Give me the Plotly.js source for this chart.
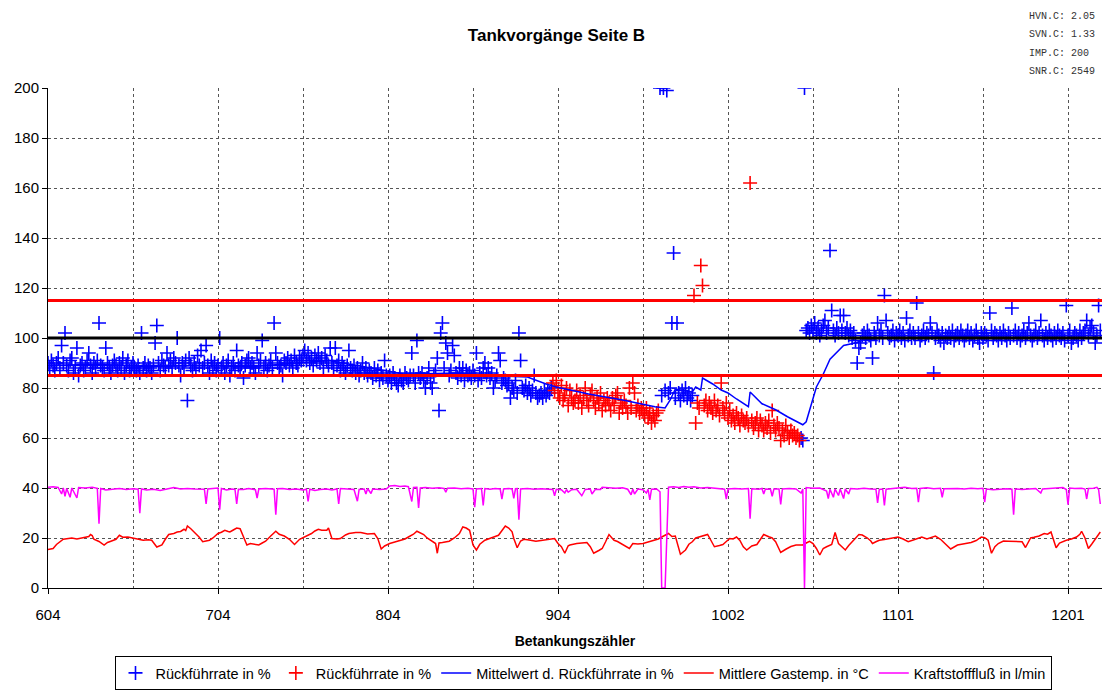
<!DOCTYPE html>
<html>
<head>
<meta charset="utf-8">
<script src="https://cdn.plot.ly/plotly-3.0.1.min.js"></script>
<style>html,body{margin:0;padding:0;background:#fff;}#chart{width:1102px;height:690px;}</style>
</head>
<body>
<div id="chart"></div>
<script>
// ---- Data ----
// x axis: consecutive refuelling events (category index); labels every 100 events
const tickIdx = [0, 100, 200, 300, 400, 500, 600];
const tickLabels = ['604', '704', '804', '904', '1002', '1101', '1201'];
const gridIdxMinor = [50, 150, 250, 350, 450, 550];

// Rückführrate in % per event
const rate = [
 90,88,91,89,87,90,92,88,97,90,
 102,89,87,91,92,86,88,96,85,89,
 90,87,88,91,94,89,86,90,88,91,
 106,89,88,87,96,90,88,86,89,91,
 89,87,90,88,92,86,89,91,87,88,
 90,88,87,89,86,102,88,90,87,89,
 88,86,89,98,105,90,87,91,89,88,
 94,89,91,88,92,90,100,89,85,90,
 88,91,75,92,89,87,90,88,93,89,
 95,88,90,97,89,86,91,88,90,87,
 89,100,88,90,86,89,91,85,88,90,
 87,95,89,88,90,84,89,91,92,88,
 90,88,86,94,89,91,99,88,90,87,
 89,91,88,106,94,90,88,89,85,91,
 90,92,89,91,88,93,90,89,92,91,
 93,95,91,94,90,92,89,93,91,94,
 90,92,88,93,91,89,96,90,88,96,
 89,91,87,90,88,86,89,95,88,87,
 89,86,88,85,87,90,86,88,85,87,
 86,84,88,85,87,83,86,84,91,85,
 83,85,82,86,84,82,81,85,83,82,
 86,84,83,85,94,85,82,99,86,84,
 86,83,80,84,88,82,80,85,87,92,
 71,102,106,88,98,94,85,87,97,93,
 86,84,88,85,88,83,87,85,86,84,
 87,85,94,83,86,84,88,90,85,88,
 84,86,80,83,85,94,91,82,84,83,
 81,82,76,80,79,83,78,102,91,80,
 79,81,78,80,77,79,85,78,76,77,
 78,76,79,77,79,78,80,82,79,83,
 78,76,81,75,77,80,73,79,76,74,
 75,79,74,77,72,76,80,75,73,77,
 79,75,72,76,74,78,71,75,73,76,
 74,71,76,73,77,78,70,74,72,75,
 73,70,80,72,82,78,71,73,70,72,
 71,69,72,68,70,66,69,67,70,71,
 200,77,200,79,199,78,80,106,134,76,
 106,78,75,79,77,80,76,78,75,77,
 117,66,74,72,129,121,73,75,71,74,
 72,70,75,71,73,69,82,72,70,74,
 68,71,67,69,66,70,68,65,69,67,
 66,68,65,162,67,64,66,68,63,67,
 65,63,66,64,67,62,71,65,63,66,
 64,59,63,61,65,62,60,63,61,62,
 60,61,59,60,59,200,103,104,102,105,
 103,106,102,104,101,103,105,107,102,104,
 135,111,103,101,104,102,109,103,109,102,
 104,101,103,100,102,99,90,96,98,101,
 102,100,103,101,99,92,102,100,106,101,
 103,100,117,107,102,100,101,103,99,102,
 101,103,100,102,99,108,101,103,100,102,
 100,114,102,99,101,103,100,102,101,106,
 102,86,100,103,101,99,102,98,101,100,
 102,100,103,99,101,102,100,103,101,99,
 101,103,100,102,99,101,103,100,98,102,
 100,102,101,99,110,103,100,102,101,99,
 102,100,103,101,99,102,100,112,101,103,
 100,102,99,101,103,100,102,106,101,99,
 101,103,100,102,107,101,99,102,100,103,
 101,99,102,100,103,101,100,102,99,113,
 101,103,98,100,102,101,99,103,100,102,
 103,107,101,104,105,102,98,101,113,103
];
// event ranges whose Rückführrate is shown in red
const redSpans = [[297, 359], [380, 442]];

// Mittelwert d. Rückführrate in % (event index, value)
const meanIdx = [0,30,60,90,120,150,165,190,210,240,260,282,293,299,318,338,349,357,363,366,369,373,379,381,384,385,391,396,400,405,412,413,420,428,435,444,446,452,456,460,468,476,478,490,520,560,619];
const meanVal = [89,89.5,88.5,89,88.5,90,91,88,85.5,86,85,84.4,81.6,80.4,77.6,75.2,73.7,72.5,72,75.2,79.6,79.2,78.4,80.4,79.2,84,81.6,79.2,78,75.6,72.5,78.4,73.7,71.3,68.5,65.3,66.5,80.4,85.5,91.5,97,98.2,99,100,100.5,101,101];

// Mittlere Gastemp. in °C (event index, value)
const tempPts = [[0,15.4],[3,15.8],[5,17.4],[7,18.5],[9,19.5],[12,19.8],[14,20],[17,19.6],[20,20],[22,20.2],[24,20.6],[25,21.4],[26,21],[27,19.5],[30,18.6],[33,17.2],[35,18.2],[37,18.7],[40,19.5],[42,21.1],[44,20.3],[47,20.4],[50,20],[53,19.5],[56,19.1],[59,19.3],[61,19.1],[64,16.4],[66,16.8],[67,17.2],[69,19.5],[71,21.4],[74,21.8],[76,22.4],[78,22.6],[80,23.5],[81,23],[82,24.8],[84,23.7],[86,22.4],[88,21.1],[89,20.3],[91,18.5],[93,18.8],[95,19.1],[97,20],[100,21.8],[102,22.3],[104,23.1],[106,22.6],[107,22.4],[109,23.2],[111,24],[113,23.7],[115,20.5],[117,17.2],[119,17.8],[121,17.6],[124,17.2],[126,18],[128,18.7],[131,20.8],[134,22.7],[136,21.5],[139,20.8],[142,19.5],[145,17.4],[148,19.5],[151,20.4],[155,21.8],[157,22.8],[159,23.5],[161,23.1],[164,23.1],[165,24],[167,19.8],[170,19.6],[172,19.8],[175,21.2],[177,21.8],[181,22.2],[184,22.2],[188,21.6],[192,21.8],[194,19.8],[196,15.6],[198,16.8],[201,17.8],[204,18.4],[207,19.1],[210,19.6],[212,20.4],[215,21.5],[217,22.7],[219,22],[221,21.4],[223,20],[225,19.1],[228,17.8],[229,13.9],[230,18],[232,18.2],[236,18.7],[239,20],[242,21.8],[244,24.4],[246,24],[248,23.1],[249,20],[250,17.2],[252,15.2],[254,17.5],[257,19.1],[260,20],[263,20.6],[265,21.1],[267,23.1],[269,24.8],[271,24],[273,22.5],[274,19.8],[276,16.1],[278,18.8],[280,19.5],[283,19.2],[287,18.7],[290,19],[294,19.4],[298,19.8],[300,17.8],[302,16.5],[304,13.9],[306,16.9],[307,17.2],[309,17.6],[311,17.8],[314,18],[317,18.2],[319,16.5],[321,13.9],[324,15],[326,15.8],[328,18.5],[330,21.4],[332,19.8],[333,19.1],[335,18.6],[338,17.4],[340,16.6],[342,15.8],[344,17.8],[347,17.6],[350,17.8],[353,18.5],[356,19.1],[359,19.6],[361,20.4],[363,21],[365,21.8],[367,20.6],[369,20.8],[372,13.5],[375,15.2],[377,17.5],[379,18.5],[381,20],[383,20.4],[386,21],[388,21.4],[390,19],[392,16.5],[395,17],[397,17.4],[399,18.6],[401,19.8],[403,19.6],[405,20.4],[407,19],[409,16.5],[411,15.2],[414,16.8],[417,17.4],[419,19.5],[421,21.4],[424,20.5],[426,20],[428,18.5],[431,14.2],[434,15.5],[437,16.6],[440,17.2],[444,17.2],[446,18],[448,18.7],[450,17.8],[452,15.8],[454,13.2],[456,15.8],[458,16.5],[461,17.4],[463,22.2],[465,17.8],[467,16.5],[469,15.2],[471,17],[473,18.5],[475,20],[477,21.4],[479,21.2],[482,20],[484,18.8],[485,17.8],[487,18.5],[489,19.1],[492,19.4],[496,19.8],[500,20.4],[503,19.6],[506,18.5],[509,19.2],[511,19.8],[514,20.4],[517,19.6],[520,20.2],[522,20.8],[525,19.5],[528,17.5],[531,15.6],[535,17.2],[539,17.8],[543,18.2],[546,19],[549,20.4],[551,20.1],[553,19.1],[555,13.9],[557,16.5],[559,17.8],[562,18.8],[565,18.7],[567,18.7],[570,18.4],[573,18.5],[575,16.2],[578,20],[580,20.3],[583,20.8],[586,21.8],[588,21.5],[590,22.4],[591,20.5],[593,16.1],[595,18],[597,18.6],[599,19.1],[602,19.6],[605,20.4],[607,21.5],[608,22.7],[610,20],[612,15.8],[614,17.6],[615,18.5],[617,20.5],[619,22.4]];

// Kraftstofffluß in l/min (event index, value)
const flowPts = [[0,40.3],[3,40.5],[6,40.2],[8,37.6],[9,40],[10,36.7],[11,39.8],[13,36.3],[14,40],[17,36],[18,40.2],[22,40],[26,40.3],[29,39.9],[30,25.7],[31,39.8],[34,39.2],[38,39.6],[42,39.8],[46,39.4],[50,39.7],[53,39.5],[54,29.9],[55,39.6],[58,39.2],[62,39.5],[66,39],[70,39.6],[74,40.2],[78,39.6],[82,39.8],[86,39.6],[90,39.7],[92,39.5],[93,33.6],[94,39.6],[97,39.8],[100,40],[101,31.3],[102,39.8],[105,39.2],[108,39.6],[110,39.4],[111,33.6],[112,39.5],[115,39.4],[118,39.8],[122,39.3],[123,36],[124,39.6],[128,39.8],[131,39.6],[133,39.5],[134,29.3],[135,39.7],[138,39.8],[142,39.4],[146,39.6],[150,39.2],[152,39.5],[153,34.6],[154,39.5],[157,39],[160,39.4],[164,39.6],[167,39.2],[170,39.6],[171,33.6],[172,39.8],[176,39.6],[180,39.4],[182,34.7],[183,39.4],[186,39.6],[187,37.6],[188,39.8],[190,37.8],[191,39.6],[195,39.4],[199,39.6],[201,40.8],[204,41],[207,40.6],[210,40.8],[212,40.5],[214,34.6],[215,40.2],[217,40.3],[218,32],[219,40],[222,40.2],[226,39.9],[230,40.1],[233,39.8],[234,38.3],[235,39.9],[239,40],[243,39.7],[247,39.9],[250,39.6],[251,32.3],[252,39.6],[255,39.8],[256,33],[257,39.8],[260,39.5],[263,39.8],[266,39.6],[267,35.6],[268,39.6],[271,39.8],[273,39.6],[274,35.9],[275,39.7],[276,39.8],[277,27.3],[278,39.6],[282,39.8],[286,39.5],[290,39.7],[294,39.6],[297,39.4],[298,36.9],[299,39.5],[302,39.3],[304,38],[305,39.4],[306,38.3],[308,39.3],[311,39.5],[314,36.9],[316,39.4],[319,39.6],[320,37.6],[322,39.5],[325,39.4],[326,40.3],[330,40.1],[334,39.9],[338,40.1],[341,39.5],[343,37.3],[344,39.6],[345,37.6],[347,39.6],[350,39.3],[352,38],[353,39.5],[354,35.2],[355,39.5],[358,39.6],[360,38.5],[361,0],[363,0],[365,40.3],[368,40.5],[371,40.2],[374,40.6],[377,40.3],[380,40.5],[384,40],[388,40.2],[392,39.9],[396,39.7],[398,39.5],[399,35.6],[400,39.6],[404,39.8],[408,39.6],[412,39.8],[413,27.7],[414,39.7],[418,39.5],[420,39.8],[421,37.6],[422,39.6],[425,39.5],[426,36.7],[427,39.6],[430,39.6],[431,33.4],[432,39.6],[436,39.8],[440,39.6],[443,38],[444,39.6],[445,0],[446,40.2],[450,39.9],[454,40],[458,38.8],[459,35.8],[460,39.5],[462,36.3],[463,39.6],[465,37],[466,39.6],[468,35.8],[469,39.6],[471,37.6],[472,39.8],[476,39.6],[480,39.9],[484,39.6],[487,39.5],[488,34],[489,39.4],[491,39.6],[492,33],[493,39.5],[496,39.8],[500,39.9],[504,40.3],[508,39.8],[511,39.9],[512,34.3],[513,39.8],[517,40.1],[521,39.7],[525,39.9],[526,36.3],[527,39.7],[531,39.9],[535,39.8],[539,39.6],[543,39.9],[547,39.7],[550,39.9],[551,34.3],[552,39.6],[556,39.3],[560,39.6],[564,39.7],[567,39.5],[568,29.3],[569,39.6],[573,39.4],[577,39.6],[581,39.8],[584,38],[585,39.6],[589,39.8],[593,40],[597,40.2],[599,39.4],[600,33.3],[601,40],[604,39.8],[608,39.9],[610,39.6],[611,35.6],[612,39.8],[615,39.9],[617,40.3],[618,39.4],[619,33.6]];

// reference limits
const limitUpper = 115, limitTarget = 100, limitLower = 85;
const infoLines = ['HVN.C: 2.05', 'SVN.C: 1.33', 'IMP.C: 200', 'SNR.C: 2549'];
const lastIdx = 620;

// ---- Build traces ----
const idx = rate.map((_, i) => i);
const isRed = i => redSpans.some(([a, b]) => i >= a && i <= b);
const blueY = rate.map((v, i) => isRed(i) ? null : v);
const redY = rate.map((v, i) => isRed(i) ? v : null);

const crossMarker = c => ({symbol: 'cross-thin-open', size: 10, color: c, line: {color: c, width: 1.6}});
const traces = [
  {type: 'scatter', mode: 'markers', name: 'Rückführrate in %', x: idx, y: blueY, marker: crossMarker('#0000FF')},
  {type: 'scatter', mode: 'markers', name: 'Rückführrate in %', x: idx, y: redY, marker: crossMarker('#FF0000')},
  {type: 'scatter', mode: 'lines', name: 'Mittelwert d. Rückführrate in %', x: meanIdx, y: meanVal, line: {color: '#0000FF', width: 1.5}},
  {type: 'scatter', mode: 'lines', name: 'Mittlere Gastemp. in °C', x: tempPts.map(p => p[0]), y: tempPts.map(p => p[1]), line: {color: '#FF0000', width: 1.5}},
  {type: 'scatter', mode: 'lines', name: 'Kraftstofffluß in l/min', x: flowPts.map(p => p[0]), y: flowPts.map(p => p[1]), line: {color: '#FF00FF', width: 1.5}},
  {type: 'scatter', mode: 'lines', showlegend: false, hoverinfo: 'skip', x: [0, lastIdx], y: [limitUpper, limitUpper], line: {color: '#FF0000', width: 3}},
  {type: 'scatter', mode: 'lines', showlegend: false, hoverinfo: 'skip', x: [0, lastIdx], y: [limitLower, limitLower], line: {color: '#FF0000', width: 3}},
  {type: 'scatter', mode: 'lines', showlegend: false, hoverinfo: 'skip', x: [0, lastIdx], y: [limitTarget, limitTarget], line: {color: '#000000', width: 3}}
];

const mono = {family: '"Liberation Mono", "DejaVu Sans Mono", monospace', size: 10, color: '#333'};
const infoY = [16, 34, 53, 71];
const annotations = infoLines.map((t, k) => ({
  text: t, xref: 'paper', yref: 'paper', x: (1027 - 48) / 1054, xanchor: 'left',
  y: (593 - infoY[k]) / 505, yanchor: 'middle', showarrow: false, font: mono
}));

const gridStyle = {gridcolor: '#555', griddash: 'dot', gridwidth: 1};
const layout = {
  width: 1102, height: 690,
  margin: {l: 48, r: 0, t: 88, b: 97, pad: 0},
  paper_bgcolor: '#fff', plot_bgcolor: '#fff',
  font: {family: 'Arial, "Liberation Sans", sans-serif', size: 14, color: '#000'},
  title: {text: 'Tankvorgänge Seite B', font: {size: 17, weight: 'bold'}, xref: 'container', x: 0.505, xanchor: 'center', yref: 'container', y: 1 - 35 / 690, yanchor: 'middle'},
  showlegend: true,
  legend: {orientation: 'h', x: (583 - 48) / 1054, xanchor: 'center', y: (593 - 679) / 505, yanchor: 'middle',
           bordercolor: '#000', borderwidth: 1, bgcolor: '#fff', itemwidth: 30, font: {size: 14.5}, traceorder: 'normal'},
  xaxis: Object.assign({
    range: [0, lastIdx], tickmode: 'array', tickvals: tickIdx, ticktext: tickLabels,
    ticks: 'outside', ticklen: 5, tickcolor: '#000', showline: true, linecolor: '#000', linewidth: 1,
    showgrid: true, zeroline: false, fixedrange: true, tickfont: {size: 15}, ticklabelstandoff: 8,
    minor: {tickmode: 'array', tickvals: gridIdxMinor, showgrid: true, gridcolor: '#555', griddash: 'dot', ticks: ''},
    title: {text: 'Betankungszähler', font: {size: 14, weight: 'bold'}, standoff: 14}
  }, gridStyle),
  yaxis: Object.assign({
    range: [0, 200], dtick: 20, tick0: 0, ticks: 'outside', ticklen: 5, tickcolor: '#000', tickfont: {size: 15},
    showline: true, linecolor: '#000', linewidth: 1, showgrid: true, zeroline: false, fixedrange: true
  }, gridStyle),
  annotations: annotations
};

Plotly.newPlot('chart', traces, layout, {displayModeBar: false, staticPlot: true});
</script>
</body>
</html>
